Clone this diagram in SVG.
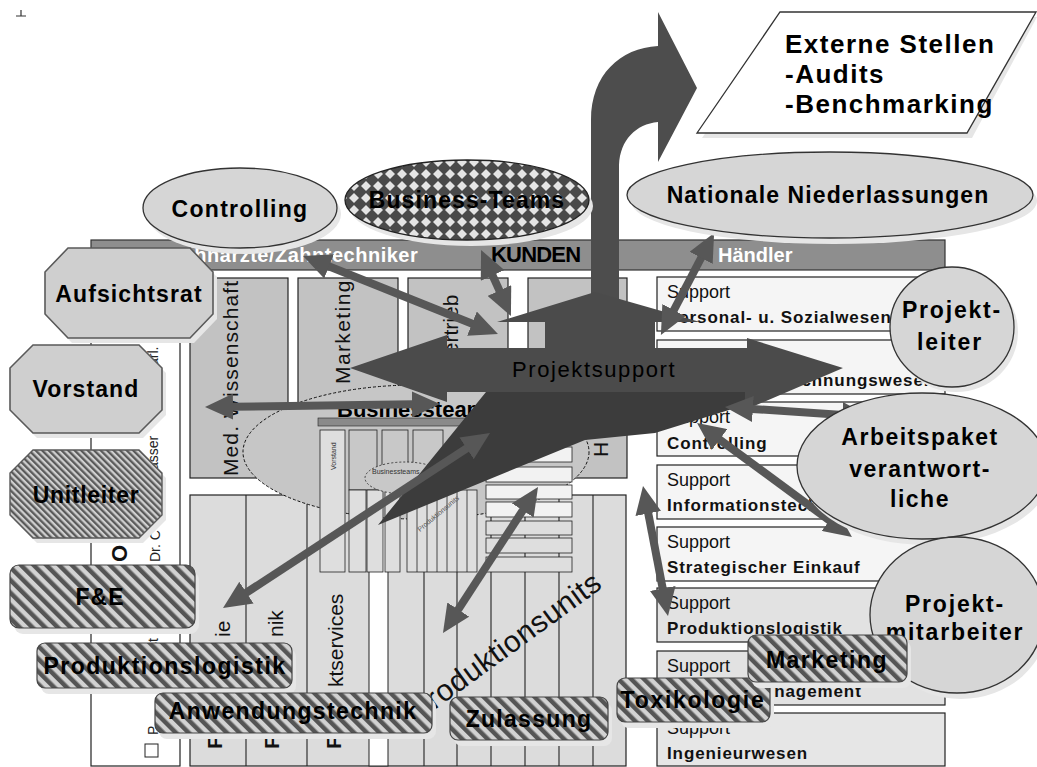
<svg xmlns="http://www.w3.org/2000/svg" width="1037" height="767" viewBox="0 0 1037 767">
<defs>
<style>
text{font-family:"Liberation Sans",Arial,sans-serif;}
.lbl{font-weight:bold;font-size:23px;fill:#000;text-anchor:middle;}
.col{fill:#c2c2c2;stroke:#222;stroke-width:1.2;}
.sup{stroke:#222;stroke-width:1.2;}
.s1{font-size:18px;fill:#111;}
.s2{font-size:17px;font-weight:bold;letter-spacing:0.9px;fill:#111;}
.rot{font-size:21px;fill:#111;}
.node{fill:#d6d6d6;stroke:#333;stroke-width:1.3;}
.oct{fill:#cfcfcf;stroke:#5a5a5a;stroke-width:1.6;}
.shadow{fill:#e6e6e6;}
.hatch{fill:url(#hatch);stroke:#444;stroke-width:1.2;}
.conn{stroke:#575757;stroke-width:8;fill:none;marker-start:url(#ah);marker-end:url(#ah);}
.mini{fill:#c8c8c8;stroke:#222;stroke-width:0.8;}
.minil{fill:#dedede;stroke:#222;stroke-width:0.8;}
.minis{fill:#f2f2f2;stroke:#222;stroke-width:0.8;}
.tiny{font-size:14px;fill:#222;}
</style>
<marker id="ah" markerUnits="userSpaceOnUse" markerWidth="28" markerHeight="26" viewBox="0 0 28 26" refX="1" refY="13" orient="auto-start-reverse">
<path d="M0,0 L28,13 L0,26 Z" fill="#575757"/>
</marker>
<pattern id="diamonds" width="12" height="12" patternUnits="userSpaceOnUse">
<rect width="12" height="12" fill="#4a4a4a"/>
<path d="M6,1 L11,6 L6,11 L1,6 Z" fill="#e4e4e4"/>
</pattern>
<pattern id="hatch" width="9" height="9" patternUnits="userSpaceOnUse" patternTransform="rotate(-45)">
<rect width="9" height="9" fill="#d2d2d2"/>
<rect width="4.5" height="9" fill="#555"/>
</pattern>
<pattern id="hatchFine" width="4.6" height="4.6" patternUnits="userSpaceOnUse" patternTransform="rotate(-45)">
<rect width="4.6" height="4.6" fill="#cfcfcf"/>
<rect width="2.3" height="4.6" fill="#5a5a5a"/>
</pattern>
</defs>

<rect width="1037" height="767" fill="#fff"/>
<!-- small corner mark -->
<path d="M16,16 H26 M21,10 V16" stroke="#333" stroke-width="1.2" fill="none"/>

<!-- organisation chart in the background -->
<g id="orgchart">
  <rect x="91" y="240" width="854" height="30" fill="#8e8e8e" stroke="#333" stroke-width="1.2"/>
  <text x="170" y="262" font-size="20" font-weight="bold" fill="#fff" letter-spacing="0.5">Zahnärzte/Zahntechniker</text>
  <text x="491" y="262" font-size="22" font-weight="bold" fill="#000" letter-spacing="-0.8">KUNDEN</text>
  <text x="718" y="262" font-size="20" font-weight="bold" fill="#fff">Händler</text>

  <rect x="91" y="270" width="89" height="496" fill="#fff" stroke="#222" stroke-width="1.2"/>
  <text transform="translate(158,366) rotate(-90)" class="tiny">arl.</text>
  <text transform="translate(158,470) rotate(-90)" class="tiny">asser</text>
  <text transform="translate(160,562) rotate(-90)" class="tiny">Dr. C</text>
  <text transform="translate(127,562) rotate(-90)" font-size="22" font-weight="bold" fill="#111">O</text>
  <text transform="translate(158,652) rotate(-90)" class="tiny">ist</text>
  <text transform="translate(158,735) rotate(-90)" class="tiny">P</text>
  <rect x="145" y="744" width="13" height="13" fill="#fff" stroke="#222"/>

  <!-- upper departments -->
  <rect class="col" x="190" y="278" width="98" height="200"/>
  <rect class="col" x="298" y="278" width="100" height="200"/>
  <rect class="col" x="408" y="278" width="100" height="200" fill="#c8c8c8"/>
  <rect class="col" x="528" y="278" width="99" height="200"/>
  <text class="rot" transform="translate(238,476) rotate(-90)" letter-spacing="1.1">Med. Wissenschaft</text>
  <text class="rot" transform="translate(350,384) rotate(-90)" letter-spacing="1.4">Marketing</text>
  <text class="rot" transform="translate(458,367) rotate(-90)">Vertrieb</text>
  <text class="rot" transform="translate(608,457) rotate(-90)">H</text>

  <!-- lower units -->
  <rect x="190" y="495" width="436" height="271" fill="#dcdcdc" stroke="#222" stroke-width="1.2"/>
  <rect x="369" y="495" width="19" height="271" fill="#fff" stroke="#222" stroke-width="1"/>
  <g stroke="#222" stroke-width="1.1">
    <line x1="246" y1="495" x2="246" y2="766"/>
    <line x1="307" y1="495" x2="307" y2="766"/>
    <line x1="424" y1="495" x2="424" y2="766"/>
    <line x1="457" y1="495" x2="457" y2="766"/>
    <line x1="491" y1="495" x2="491" y2="766"/>
    <line x1="525" y1="495" x2="525" y2="766"/>
    <line x1="559" y1="495" x2="559" y2="766"/>
    <line x1="593" y1="495" x2="593" y2="766"/>
  </g>
  <text class="rot" font-size="22" transform="translate(230,637) rotate(-90)">ie</text>
  <text class="rot" font-size="22" transform="translate(283,637) rotate(-90)">nik</text>
  <text class="rot" font-size="22" transform="translate(343,687) rotate(-90)">ktservices</text>
  <text class="rot" font-size="20" font-weight="bold" transform="translate(222,749) rotate(-90)">F</text>
  <text class="rot" font-size="20" font-weight="bold" transform="translate(279,749) rotate(-90)">F</text>
  <text class="rot" font-size="20" font-weight="bold" transform="translate(341,749) rotate(-90)">F</text>
  <text transform="translate(418,722) rotate(-36)" font-size="30" fill="#111" letter-spacing="0.5">Produktionsunits</text>

  <!-- support functions -->
  <g class="sup">
    <rect x="657" y="277" width="288" height="54" fill="#f5f5f5"/>
    <rect x="657" y="340" width="288" height="54" fill="#f5f5f5"/>
    <rect x="657" y="402" width="288" height="54" fill="#f5f5f5"/>
    <rect x="657" y="465" width="288" height="54" fill="#f5f5f5"/>
    <rect x="657" y="527" width="288" height="54" fill="#f5f5f5"/>
    <rect x="657" y="588" width="288" height="54" fill="#e2e2e2"/>
    <rect x="657" y="651" width="288" height="54" fill="#e2e2e2"/>
    <rect x="657" y="713" width="288" height="53" fill="#e6e6e6"/>
  </g>
  <g>
    <text class="s1" x="667" y="298">Support</text><text class="s2" x="667" y="323">Personal- u. Sozialwesen</text>
    <text class="s1" x="667" y="361">Support</text><text class="s2" x="667" y="386">Finanz- und Rechnungswesen</text>
    <text class="s1" x="667" y="423">Support</text><text class="s2" x="667" y="449">Controlling</text>
    <text class="s1" x="667" y="486">Support</text><text class="s2" x="667" y="511">Informationstechnik</text>
    <text class="s1" x="667" y="548">Support</text><text class="s2" x="667" y="573">Strategischer Einkauf</text>
    <text class="s1" x="667" y="609">Support</text><text class="s2" x="667" y="634">Produktionslogistik</text>
    <text class="s1" x="667" y="672">Support</text><text class="s2" x="667" y="697">Qualitätsmanagement</text>
    <text class="s1" x="667" y="734">Support</text><text class="s2" x="667" y="759">Ingenieurwesen</text>
  </g>
</g>

<!-- business teams overview with its small copy of the chart -->
<g id="businessteams-area">
  <ellipse cx="416" cy="452" rx="173" ry="67" fill="#c6c6c6" stroke="#111" stroke-width="1" stroke-dasharray="3,2"/>
  <text x="337" y="417" font-size="22" font-weight="bold" fill="#000">Businessteams</text>
  <rect x="318" y="418" width="256" height="8" fill="#8a8a8a" stroke="#222" stroke-width="0.6"/>
  <rect class="minil" x="320" y="430" width="25" height="142"/>
  <text transform="translate(336,470) rotate(-90)" font-size="7" fill="#333">Vorstand</text>
  <rect class="mini" x="349" y="430" width="28" height="60"/>
  <rect class="mini" x="382" y="430" width="26" height="60"/>
  <rect class="mini" x="413" y="430" width="30" height="60"/>
  <rect class="minil" x="349" y="490" width="17" height="82"/>
  <rect class="minil" x="367" y="490" width="16" height="82"/>
  <rect class="minil" x="385" y="490" width="15" height="82"/>
  <rect class="minil" x="407" y="490" width="70" height="82"/>
  <g stroke="#222" stroke-width="0.8">
    <line x1="417" y1="490" x2="417" y2="572"/><line x1="427" y1="490" x2="427" y2="572"/>
    <line x1="437" y1="490" x2="437" y2="572"/><line x1="447" y1="490" x2="447" y2="572"/>
    <line x1="457" y1="490" x2="457" y2="572"/><line x1="467" y1="490" x2="467" y2="572"/>
  </g>
  <text transform="translate(420,532) rotate(-40)" font-size="7" fill="#555">Produktionsunits</text>
  <rect class="minis" x="486" y="447" width="86" height="15"/>
  <rect class="minis" x="486" y="467" width="86" height="15"/>
  <rect class="minis" x="486" y="485" width="86" height="14"/>
  <rect class="minis" x="486" y="502" width="86" height="15"/>
  <rect class="minil" x="486" y="521" width="86" height="14"/>
  <rect class="minil" x="486" y="538" width="86" height="15"/>
  <rect class="minil" x="486" y="557" width="86" height="15"/>
  <ellipse cx="405" cy="478" rx="40" ry="16" fill="#c8c8c8" stroke="#222" stroke-width="0.8" stroke-dasharray="2,2"/>
  <text x="372" y="474" font-size="7" fill="#333">Businessteams</text>
</g>

<!-- central project support cross and the upward arrow -->
<g id="projektsupport">
  <path d="M591,300 L591,120 C591,75 620,48 658,46 L658,12 L697,88 L658,162 L658,122 C636,124 620,140 619,165 L619,300 Z" fill="#4d4d4d"/>
  <polygon points="378,525 486,392 745,392 745,405 655,433 585,440" fill="#3c3c3c"/>
  <polygon points="350,368 447,335 447,348 545,348 545,322 497,322 595,292 700,322 655,322 655,348 747,348 747,338 843,368 745,410 745,392 447,392 447,402" fill="#4b4b4b"/>
  <text x="512" y="377" font-size="22" fill="#000" letter-spacing="1.6">Projektsupport</text>
</g>

<!-- connectors -->
<g id="connectors">
  <line class="conn" x1="328.1" y1="266.0" x2="472.9" y2="324.0"/>
  <line class="conn" x1="492.2" y1="274.6" x2="499.8" y2="291.4"/>
  <line class="conn" x1="701.6" y1="257.0" x2="673.4" y2="311.0"/>
  <line class="conn" x1="232" y1="406.7" x2="413" y2="404.3"/>
  <line class="conn" x1="751.9" y1="408.9" x2="843.1" y2="415.1"/>
  <line class="conn" x1="718.8" y1="439.0" x2="830.2" y2="521.0"/>
  <line class="conn" x1="648.1" y1="512.5" x2="662.9" y2="589.5"/>
  <line class="conn" x1="245.6" y1="593.2" x2="467.4" y2="447.8"/>
  <line class="conn" x1="457.7" y1="610.4" x2="523.3" y2="509.6"/>
</g>

<!-- nodes -->
<g id="externe-stellen">
  <polygon class="shadow" points="785,17 1037,17 972,138 702,138"/>
  <polygon points="780,12 1036,12 967,133 697,133" fill="#fff" stroke="#333" stroke-width="1.3"/>
  <text x="785" y="53" font-size="26" font-weight="bold" letter-spacing="1.5">Externe Stellen</text>
  <text x="785" y="83" font-size="26" font-weight="bold" letter-spacing="1.5">-Audits</text>
  <text x="785" y="113" font-size="26" font-weight="bold" letter-spacing="1.5">-Benchmarking</text>
</g>
<g id="controlling">
  <ellipse class="shadow" cx="244" cy="214" rx="97" ry="40"/>
  <ellipse class="node" cx="240" cy="208" rx="97" ry="40"/>
  <text class="lbl" x="240" y="217" letter-spacing="1.3">Controlling</text>
</g>
<g id="business-teams">
  <ellipse class="shadow" cx="471" cy="206" rx="122" ry="40"/>
  <ellipse cx="467" cy="200" rx="122" ry="40" fill="url(#diamonds)" stroke="#222" stroke-width="1.3"/>
  <text class="lbl" x="467" y="208" font-size="24" letter-spacing="1.1">Business-Teams</text>
</g>
<g id="nationale-niederlassungen">
  <ellipse class="shadow" cx="834" cy="201" rx="203" ry="43"/>
  <ellipse class="node" cx="830" cy="195" rx="203" ry="43"/>
  <text class="lbl" x="828" y="203" font-size="24" letter-spacing="1.1">Nationale Niederlassungen</text>
</g>
<g id="aufsichtsrat">
  <polygon class="shadow" points="72,253 194,253 217,277 217,319 194,343 72,343 49,319 49,277"/>
  <polygon class="oct" points="68,248 190,248 213,272 213,314 190,338 68,338 45,314 45,272"/>
  <text class="lbl" x="129" y="302" font-size="24" letter-spacing="1.1">Aufsichtsrat</text>
</g>
<g id="vorstand">
  <polygon class="shadow" points="37,350 143,350 166,373 166,415 143,438 37,438 14,415 14,373"/>
  <polygon class="oct" points="33,345 139,345 162,368 162,410 139,433 33,433 10,410 10,368"/>
  <text class="lbl" x="86" y="397" font-size="24" letter-spacing="1.1">Vorstand</text>
</g>
<g id="unitleiter">
  <polygon class="shadow" points="37,455 143,455 166,478 166,520 143,543 37,543 14,520 14,478"/>
  <polygon points="33,450 139,450 162,473 162,515 139,538 33,538 10,515 10,473" fill="url(#hatchFine)" stroke="#5a5a5a" stroke-width="1.4"/>
  <text class="lbl" x="86" y="503" font-size="24" letter-spacing="0.7">Unitleiter</text>
</g>
<g id="projektleiter">
  <ellipse class="shadow" cx="956" cy="332" rx="62" ry="60"/>
  <ellipse class="node" cx="952" cy="327" rx="62" ry="60"/>
  <text class="lbl" x="952" y="318" letter-spacing="1.8">Projekt-</text>
  <text class="lbl" x="950" y="350" letter-spacing="1.8">leiter</text>
</g>
<g id="arbeitspaket">
  <ellipse class="shadow" cx="926" cy="472" rx="125" ry="73"/>
  <ellipse class="node" cx="922" cy="466" rx="125" ry="73"/>
  <text class="lbl" x="920" y="445" letter-spacing="1.5">Arbeitspaket</text>
  <text class="lbl" x="920" y="477" letter-spacing="1.5">verantwort-</text>
  <text class="lbl" x="920" y="507" letter-spacing="1.5">liche</text>
</g>
<g id="projektmitarbeiter">
  <ellipse class="shadow" cx="961" cy="621" rx="87" ry="78"/>
  <ellipse class="node" cx="957" cy="615" rx="87" ry="78"/>
  <text class="lbl" x="955" y="612" letter-spacing="1.8">Projekt-</text>
  <text class="lbl" x="955" y="640" letter-spacing="1.8">mitarbeiter</text>
</g>
<g id="fe">
  <rect class="shadow" x="14" y="571" width="185" height="63" rx="9"/>
  <rect class="hatch" x="10" y="565" width="185" height="63" rx="9"/>
  <text class="lbl" x="100" y="605" font-size="24" letter-spacing="1">F&amp;E</text>
</g>
<g id="produktionslogistik">
  <rect class="shadow" x="41" y="649" width="255" height="45" rx="8"/>
  <rect class="hatch" x="37" y="643" width="255" height="45" rx="8"/>
  <text class="lbl" x="165" y="674" letter-spacing="1.5">Produktionslogistik</text>
</g>
<g id="anwendungstechnik">
  <rect class="shadow" x="159" y="699" width="277" height="40" rx="8"/>
  <rect class="hatch" x="155" y="693" width="277" height="40" rx="8"/>
  <text class="lbl" x="293" y="719" font-size="24" letter-spacing="1.4">Anwendungstechnik</text>
</g>
<g id="zulassung">
  <rect class="shadow" x="454" y="703" width="158" height="43" rx="8"/>
  <rect class="hatch" x="450" y="697" width="158" height="43" rx="8"/>
  <text class="lbl" x="529" y="727" font-size="24" letter-spacing="1.3">Zulassung</text>
</g>
<g id="toxikologie">
  <rect class="shadow" x="621" y="684" width="153" height="44" rx="8"/>
  <rect class="hatch" x="617" y="678" width="153" height="44" rx="8"/>
  <text class="lbl" x="693" y="708" letter-spacing="1.7">Toxikologie</text>
</g>
<g id="marketing">
  <rect class="shadow" x="752" y="641" width="159" height="47" rx="8"/>
  <rect class="hatch" x="748" y="635" width="159" height="47" rx="8"/>
  <text class="lbl" x="827" y="668" letter-spacing="1.5">Marketing</text>
</g>
</svg>
